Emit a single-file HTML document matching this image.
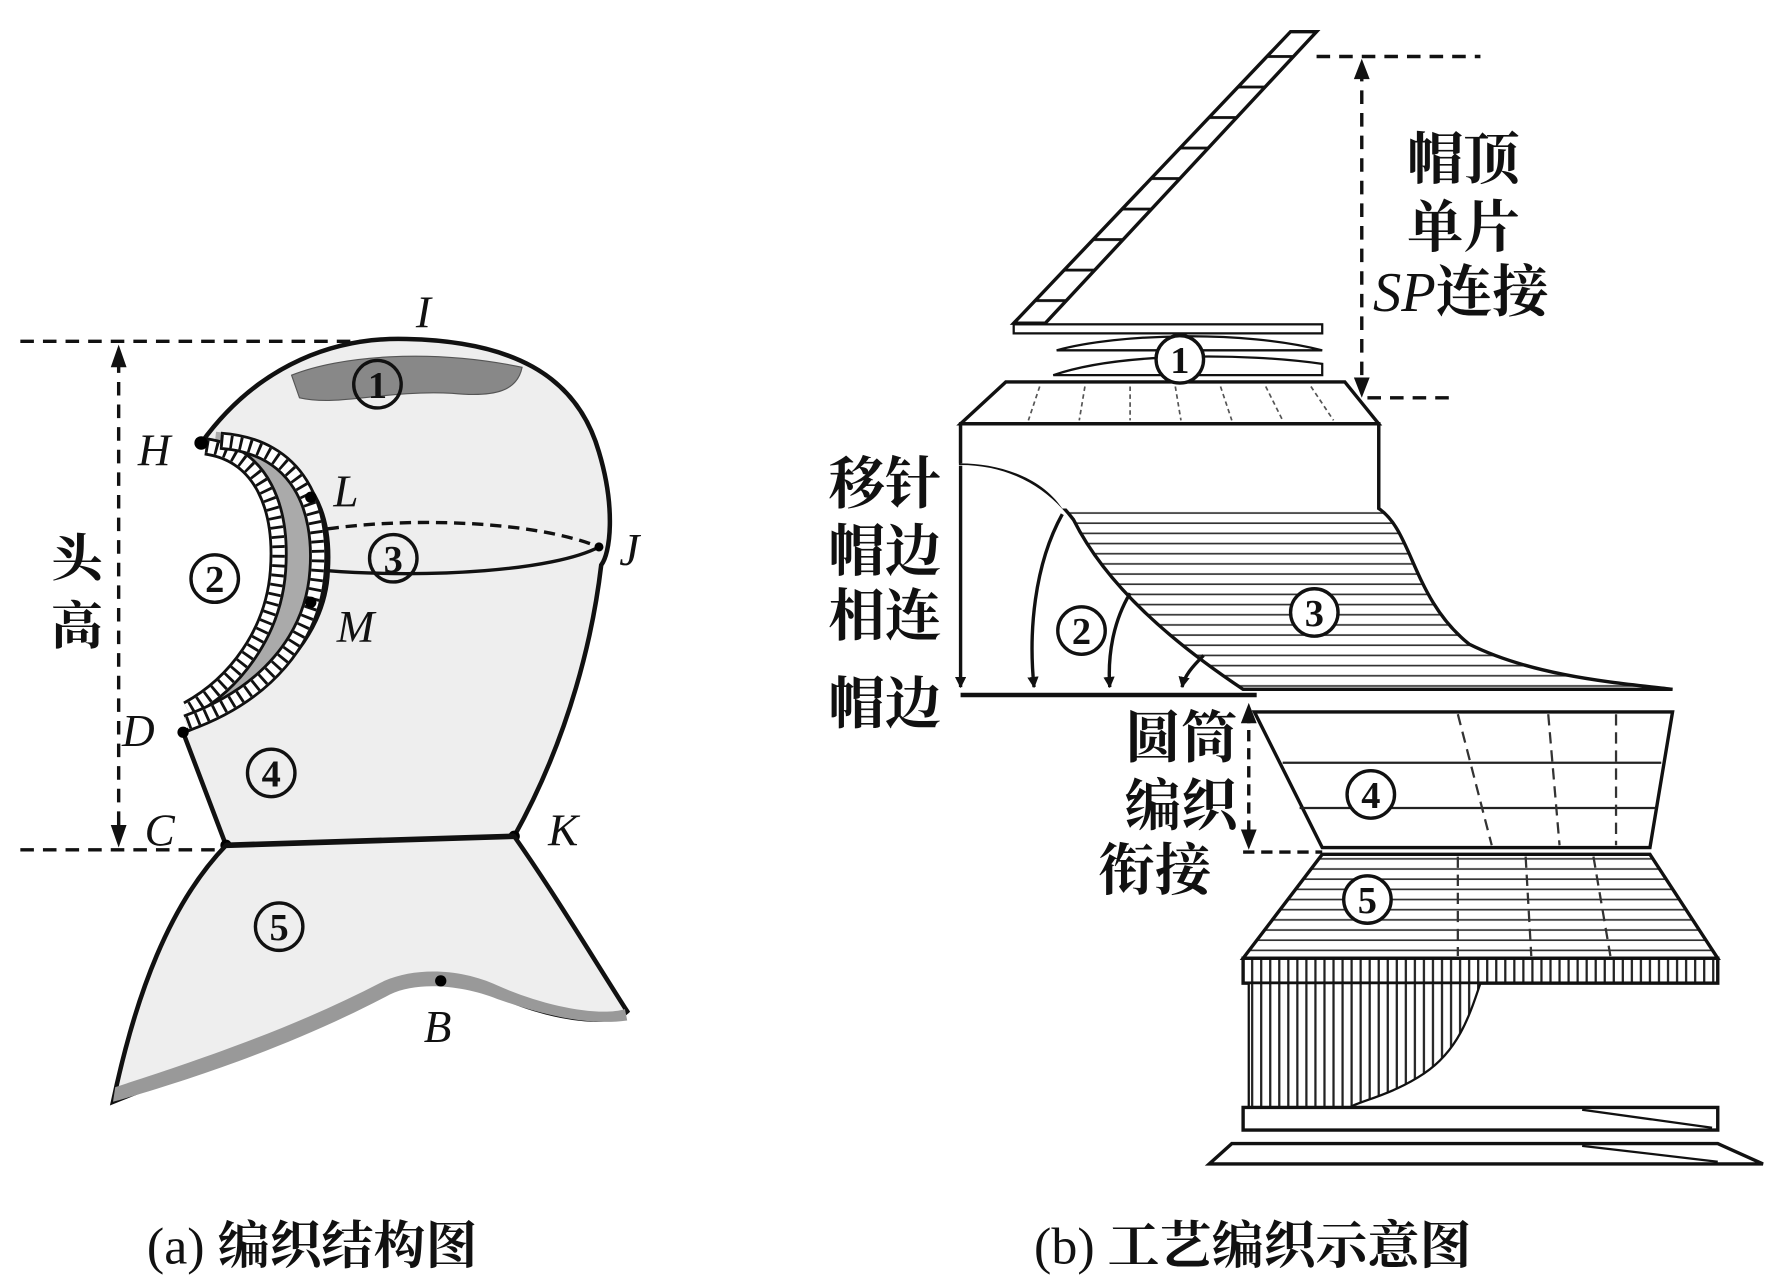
<!DOCTYPE html>
<html><head><meta charset="utf-8"><style>
html,body{margin:0;padding:0;background:#fff}
svg{display:block}
text{font-family:"Liberation Serif","Noto Serif CJK SC","Noto Sans CJK SC",serif;fill:#111}
.c circle{fill:none;stroke:#111;stroke-width:3}
.c text{font-family:"Liberation Serif",serif;font-weight:bold;font-size:34px;text-anchor:middle}
</style></head><body>
<svg width="1772" height="1286" viewBox="0 0 1568 1138" preserveAspectRatio="none" xmlns="http://www.w3.org/2000/svg">
<defs>
<marker id="ar" markerWidth="10" markerHeight="10" refX="9" refY="5" orient="auto" markerUnits="userSpaceOnUse"><path d="M0,0 L10,5 L0,10 Z" fill="#111"/></marker>
<pattern id="vh" width="8" height="8" patternUnits="userSpaceOnUse"><rect width="8" height="8" fill="#fff"/><line x1="4" y1="0" x2="4" y2="8" stroke="#222" stroke-width="2"/></pattern>
<pattern id="hh" width="10" height="9" patternUnits="userSpaceOnUse"><rect width="10" height="9" fill="#fff"/><line x1="0" y1="4" x2="10" y2="4" stroke="#333" stroke-width="1.5"/></pattern>
<pattern id="hh2" width="20" height="27" patternUnits="userSpaceOnUse" y="10"><rect width="20" height="27" fill="#fff"/><line x1="0" y1="13" x2="20" y2="13" stroke="#111" stroke-width="2.5"/></pattern>
</defs>
<!-- LEFT FIGURE -->
<line x1="18" y1="302" x2="370" y2="302" stroke="#111" stroke-width="3" stroke-dasharray="12,8"/>
<line x1="18" y1="752" x2="200" y2="752" stroke="#111" stroke-width="3" stroke-dasharray="12,8"/>
<line x1="105" y1="318" x2="105" y2="738" stroke="#111" stroke-width="3" stroke-dasharray="12,8"/>
<path d="M105,305 L98,325 L112,325 Z M105,750 L98,730 L112,730 Z" fill="#111"/>
<text x="45" y="510" font-size="46" font-weight="bold">头</text>
<text x="45" y="570" font-size="46" font-weight="bold">高</text>
<path d="M178,392 C230,320 300,298 360,300 C450,302 510,330 530,400 C545,450 540,490 532,500 C525,560 505,650 455,740 L200,748 L162,648 C235,618 288,565 290,505 C294,445 270,395 178,392 Z" fill="#eeeeee" stroke="#111" stroke-width="4"/>
<path d="M258,332 C300,315 380,308 462,325 C458,345 440,352 400,348 C340,345 300,360 265,352 Z" fill="#888" stroke="#555" stroke-width="1"/>
<path d="M190,393 C255,400 268,450 264,505 C260,565 222,612 170,635" fill="none" stroke="#aaa" stroke-width="22"/>
<g fill="none">
<path d="M182,395 C232,402 250,450 246,505 C242,560 208,605 166,628" stroke="#111" stroke-width="16"/>
<path d="M182,395 C232,402 250,450 246,505 C242,560 208,605 166,628" stroke="#fff" stroke-width="11"/>
<path d="M182,395 C232,402 250,450 246,505 C242,560 208,605 166,628" stroke="#111" stroke-width="11" stroke-dasharray="2.5,6"/>
<path d="M195,390 C265,395 285,450 281,505 C277,565 235,615 165,640" stroke="#111" stroke-width="16"/>
<path d="M195,390 C265,395 285,450 281,505 C277,565 235,615 165,640" stroke="#fff" stroke-width="11"/>
<path d="M195,390 C265,395 285,450 281,505 C277,565 235,615 165,640" stroke="#111" stroke-width="11" stroke-dasharray="2.5,6"/>
</g>
<path d="M290,468 C360,458 470,460 530,484" fill="none" stroke="#111" stroke-width="3" stroke-dasharray="10,6"/>
<path d="M290,505 C380,512 490,505 530,484" fill="none" stroke="#111" stroke-width="3"/>
<circle cx="275" cy="440" r="5"/><circle cx="275" cy="533" r="5"/><circle cx="162" cy="648" r="5"/><circle cx="178" cy="392" r="6"/><circle cx="530" cy="484" r="4"/><circle cx="200" cy="748" r="5"/><circle cx="455" cy="740" r="5"/>
<path d="M200,748 L455,740 C490,790 520,840 555,895 C540,910 480,900 440,880 C410,866 370,860 340,875 C260,920 160,950 100,975 C120,880 150,800 200,748 Z" fill="#eeeeee" stroke="#111" stroke-width="4"/>
<path d="M102,962 C170,940 260,910 340,868 C370,855 410,858 440,872 C480,890 530,900 553,893 L555,903 C520,908 480,898 440,884 C410,872 370,868 345,880 C260,925 170,955 100,975 Z" fill="#999"/>
<line x1="200" y1="748" x2="455" y2="740" stroke="#111" stroke-width="5"/>
<circle cx="390" cy="868" r="5"/>
<g font-style="italic" font-size="40">
<text x="368" y="290">I</text><text x="122" y="412">H</text><text x="295" y="448">L</text><text x="548" y="500">J</text><text x="298" y="568">M</text><text x="108" y="660">D</text><text x="128" y="748">C</text><text x="485" y="748">K</text><text x="375" y="922">B</text>
</g>
<g class="c">
<circle cx="334" cy="340" r="21"/><text x="334" y="352">1</text>
<circle cx="190" cy="512" r="21"/><text x="190" y="524">2</text>
<circle cx="348" cy="494" r="21"/><text x="348" y="506">3</text>
<circle cx="240" cy="684" r="21"/><text x="240" y="696">4</text>
<circle cx="247" cy="820" r="21"/><text x="247" y="832">5</text>
<circle cx="1044" cy="318" r="21"/><text x="1044" y="330">1</text>
<circle cx="957" cy="558" r="21"/><text x="957" y="570">2</text>
<circle cx="1163" cy="542" r="21"/><text x="1163" y="554">3</text>
<circle cx="1213" cy="703" r="21"/><text x="1213" y="715">4</text>
<circle cx="1210" cy="796" r="21"/><text x="1210" y="808">5</text>
</g>
<!-- RIGHT FIGURE -->
<line x1="1165" y1="50" x2="1310" y2="50" stroke="#111" stroke-width="3" stroke-dasharray="12,8"/>
<line x1="1190" y1="352" x2="1290" y2="352" stroke="#111" stroke-width="3" stroke-dasharray="12,8"/>
<line x1="1205" y1="60" x2="1205" y2="342" stroke="#111" stroke-width="3" stroke-dasharray="12,8"/>
<path d="M1205,52 L1198,70 L1212,70 Z M1205,352 L1198,334 L1212,334 Z" fill="#111"/>
<path d="M897,286 L1142,28 L1165,28 L925,286 Z" fill="url(#hh2)" stroke="#111" stroke-width="3"/>
<rect x="897" y="287" width="273" height="8" fill="#fff" stroke="#111" stroke-width="2"/>
<path d="M935,310 C990,295 1100,292 1170,310 Z" fill="#fff" stroke="#111" stroke-width="2"/>
<path d="M932,332 C990,312 1100,312 1170,322 L1170,332 Z" fill="#fff" stroke="#111" stroke-width="2"/>
<path d="M850,375 L890,338 L1190,338 L1220,375 Z" fill="#fff" stroke="#111" stroke-width="3"/>
<g stroke="#555" stroke-width="1.5" stroke-dasharray="4,3"><line x1="920" y1="342" x2="910" y2="372"/><line x1="960" y1="342" x2="955" y2="372"/><line x1="1000" y1="342" x2="1000" y2="372"/><line x1="1040" y1="342" x2="1045" y2="372"/><line x1="1080" y1="342" x2="1090" y2="372"/><line x1="1120" y1="342" x2="1135" y2="372"/><line x1="1160" y1="342" x2="1180" y2="372"/></g>
<path d="M850,375 L1220,375 L1220,450 C1250,470 1250,530 1300,570 C1360,600 1440,605 1480,610 L1100,610 C1040,570 980,520 950,460 C920,420 880,410 850,410 Z" fill="url(#hh)" stroke="#111" stroke-width="3"/>
<path d="M850,375 L1220,375 L1220,450 C1180,450 1070,450 940,450 C920,420 880,410 850,410 Z" fill="#fff"/>
<path d="M850,375 L1220,375 L1220,450" fill="none" stroke="#111" stroke-width="3"/>
<path d="M850,375 L850,410" stroke="#111" stroke-width="3"/>
<g class="c"><circle cx="1163" cy="542" r="21" fill="#fff" style="fill:#fff"/><text x="1163" y="554">3</text></g>
<line x1="850" y1="615" x2="1112" y2="615" stroke="#111" stroke-width="4"/>
<line x1="850" y1="412" x2="850" y2="608" stroke="#111" stroke-width="3" marker-end="url(#ar)"/>
<path d="M940,455 C915,500 910,560 915,608" fill="none" stroke="#111" stroke-width="3" marker-end="url(#ar)"/>
<path d="M1000,525 C985,550 980,580 982,608" fill="none" stroke="#111" stroke-width="3" marker-end="url(#ar)"/>
<path d="M1065,580 C1055,590 1048,598 1046,608" fill="none" stroke="#111" stroke-width="3" marker-end="url(#ar)"/>
<path d="M1110,630 L1480,630 L1460,750 L1170,750 Z" fill="#fff" stroke="#111" stroke-width="3"/>
<g stroke="#222" stroke-width="2"><line x1="1135" y1="675" x2="1470" y2="675"/><line x1="1150" y1="715" x2="1465" y2="715"/></g>
<g stroke="#333" stroke-width="2" stroke-dasharray="10,6"><line x1="1290" y1="632" x2="1320" y2="748"/><line x1="1370" y1="632" x2="1380" y2="748"/><line x1="1430" y1="632" x2="1430" y2="748"/></g>
<g class="c"><circle cx="1213" cy="703" r="21" style="fill:#fff"/><text x="1213" y="715">4</text></g>
<line x1="1105" y1="630" x2="1105" y2="745" stroke="#111" stroke-width="3" stroke-dasharray="10,6"/>
<path d="M1105,622 L1098,640 L1112,640 Z M1105,752 L1098,734 L1112,734 Z" fill="#111"/>
<line x1="1100" y1="754" x2="1170" y2="754" stroke="#111" stroke-width="3" stroke-dasharray="10,6"/>
<path d="M1170,756 L1460,756 L1520,848 L1100,848 Z" fill="url(#hh)" stroke="#111" stroke-width="3"/>
<g stroke="#333" stroke-width="2" stroke-dasharray="10,6"><line x1="1290" y1="758" x2="1290" y2="846"/><line x1="1350" y1="758" x2="1355" y2="846"/><line x1="1410" y1="758" x2="1425" y2="846"/></g>
<g class="c"><circle cx="1210" cy="796" r="21" style="fill:#fff"/><text x="1210" y="808">5</text></g>
<g class="c"><circle cx="1044" cy="318" r="21" style="fill:#fff"/><text x="1044" y="330">1</text></g>
<rect x="1100" y="848" width="420" height="22" fill="url(#vh)" stroke="#111" stroke-width="3"/>
<path d="M1105,870 L1310,870 C1300,900 1290,930 1260,950 C1230,970 1200,975 1195,980 L1105,980 Z" fill="url(#vh)" stroke="#111" stroke-width="2"/>
<path d="M1100,980 L1520,980 L1520,1000 L1100,1000 Z" fill="#fff" stroke="#111" stroke-width="3"/>
<path d="M1400,982 L1515,998" stroke="#111" stroke-width="2"/>
<path d="M1090,1012 L1520,1012 L1560,1030 L1070,1030 Z" fill="#fff" stroke="#111" stroke-width="3"/>
<path d="M1400,1014 L1520,1028" stroke="#111" stroke-width="2"/>
<g font-size="50" font-weight="bold" font-family="Liberation Sans,Noto Sans CJK SC,sans-serif">
<text x="1245" y="158">帽顶</text><text x="1245" y="218">单片</text>
<text x="1215" y="275"><tspan font-style="italic" font-weight="normal" font-family="Liberation Serif,serif">SP</tspan>连接</text>
<text x="733" y="445">移针</text><text x="733" y="505">帽边</text><text x="733" y="562">相连</text>
<text x="733" y="640">帽边</text>
<text x="995" y="670">圆筒</text><text x="995" y="730">编织</text><text x="972" y="787">衔接</text>
</g>
<text x="130" y="1118" font-size="46">(a) <tspan font-weight="bold">编织结构图</tspan></text>
<text x="915" y="1118" font-size="46">(b) <tspan font-weight="bold">工艺编织示意图</tspan></text>
</svg>
</body></html>
